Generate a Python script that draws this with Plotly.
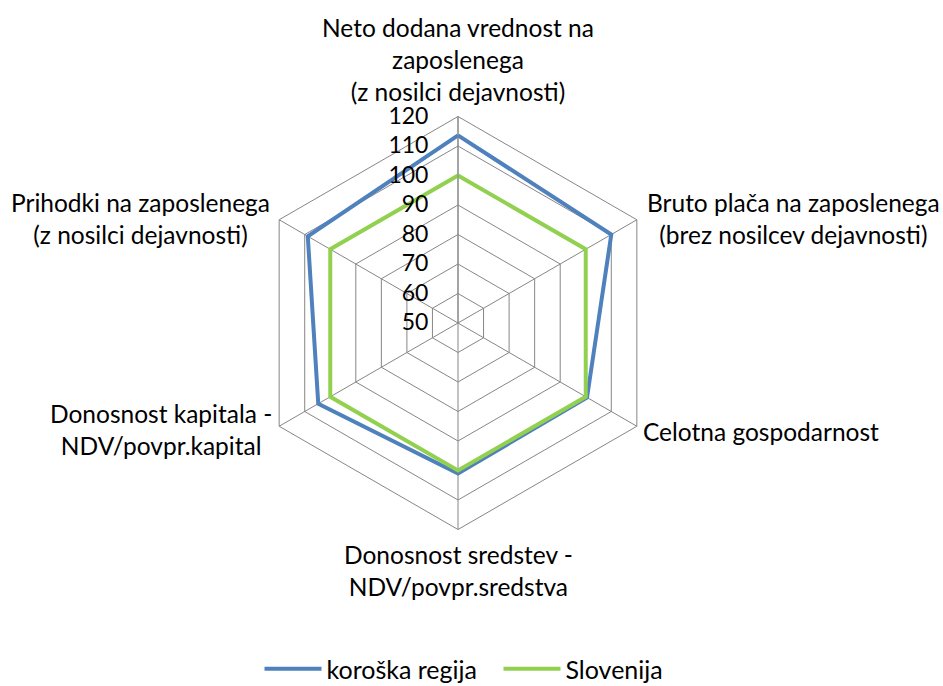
import plotly.graph_objects as go

categories = [
    "Neto dodana vrednost na<br>zaposlenega<br>(z nosilci dejavnosti)",
    "Bruto plača na zaposlenega<br>(brez nosilcev dejavnosti)",
    "Celotna gospodarnost",
    "Donosnost sredstev -<br>NDV/povpr.sredstva",
    "Donosnost kapitala -<br>NDV/povpr.kapital",
    "Prihodki na zaposlenega<br>(z nosilci dejavnosti)",
]
koroska = [113.6, 110.0, 100.5, 101.0, 104.7, 108.8]
slovenija = [100, 100, 100, 100, 100, 100]
series_names = ["koroška regija", "Slovenija"]
radial_ticks = [50, 60, 70, 80, 90, 100, 110, 120]

FONT = "Lato"
GRID = "#868686"
W, H = 943, 686

fig = go.Figure()
fig.add_trace(go.Scatterpolar(
    r=koroska + koroska[:1], theta=categories + categories[:1],
    mode="lines", name=series_names[0],
    line=dict(color="#4F81BD", width=4),
))
fig.add_trace(go.Scatterpolar(
    r=slovenija + slovenija[:1], theta=categories + categories[:1],
    mode="lines", name=series_names[1],
    line=dict(color="#92D050", width=4),
))

# category label placement (pixel centres in the figure), one per category
label_pos = [
    (458, 59, "center"),
    (793, 218.5, "center"),
    (641, 431, "left"),
    (458, 570, "center"),
    (160.5, 429, "center"),
    (140, 218.5, "center"),
]
for text, (px, py, anch) in zip(categories, label_pos):
    fig.add_annotation(
        text=text, xref="paper", yref="paper",
        x=px / W, y=1 - py / H, xanchor=anch, yanchor="middle",
        align="center", showarrow=False,
        font=dict(family=FONT, size=24.5, color="black"),
    )

cx, cy, rad = 458, 323, 206.5
fig.update_layout(
    width=W, height=H,
    margin=dict(l=0, r=0, t=0, b=0, autoexpand=False),
    paper_bgcolor="white",
    font=dict(family=FONT, size=25, color="black"),
    polar=dict(
        domain=dict(x=[(cx - rad) / W, (cx + rad) / W],
                    y=[(H - cy - rad) / H, (H - cy + rad) / H]),
        gridshape="linear",
        bgcolor="white",
        radialaxis=dict(
            range=[50, 120], tickvals=radial_ticks,
            angle=90, tickangle=90, side="counterclockwise",
            showline=True, linecolor=GRID, linewidth=1,
            gridcolor=GRID, gridwidth=1,
            ticks="outside", ticklen=21, tickcolor="rgba(0,0,0,0)",
            tickfont=dict(size=23),
        ),
        angularaxis=dict(
            direction="clockwise", rotation=90,
            showline=True, linecolor=GRID, linewidth=1,
            gridcolor=GRID, gridwidth=1,
            ticks="", showticklabels=False,
        ),
    ),
    showlegend=True,
    legend=dict(
        orientation="h", x=498.5 / W, xanchor="center",
        y=-6 / H, yanchor="bottom",
        font=dict(size=25), itemwidth=57, entrywidth=167,
    ),
)

fig.write_html(
    "out.html",
    config={"displayModeBar": False},
    post_script="document.body.style.margin='0px';",
)
